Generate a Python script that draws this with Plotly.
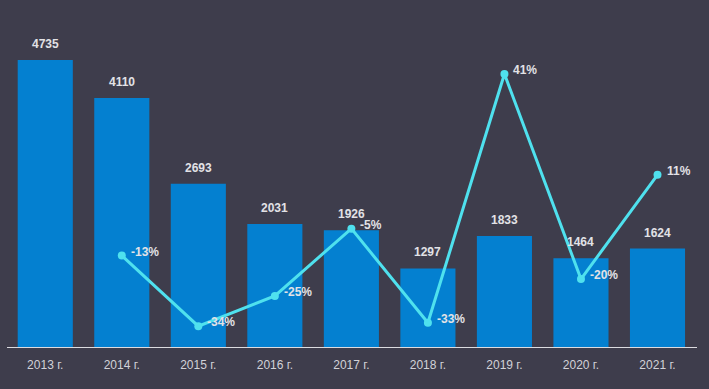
import plotly.graph_objects as go

years = ["2013 г.", "2014 г.", "2015 г.", "2016 г.", "2017 г.", "2018 г.", "2019 г.", "2020 г.", "2021 г."]
values = [4735, 4110, 2693, 2031, 1926, 1297, 1833, 1464, 1624]
change_years = years[1:]
changes = [-13, -34, -25, -5, -33, 41, -20, 11]

BG = "#3e3d4c"
BAR = "#0480d0"
LINE = "#4fe1ee"
TXT = "#e2e2e6"
FONT = "Liberation Sans, Arial, sans-serif"

fig = go.Figure()
fig.add_trace(go.Bar(x=years, y=values, marker=dict(color=BAR, line=dict(width=0)), width=0.72,
                     hoverinfo="skip"))
fig.add_trace(go.Scatter(x=change_years, y=changes, yaxis="y2", mode="lines+markers",
                         line=dict(color=LINE, width=3), marker=dict(color=LINE, size=8),
                         hoverinfo="skip"))

ann = []
for x, v in zip(years, values):
    ann.append(dict(x=x, y=v, xref="x", yref="y", text=f"<b>{v}</b>", showarrow=False,
                    yanchor="bottom", yshift=7, font=dict(family=FONT, size=12, color=TXT)))
for x, c in zip(change_years, changes):
    ann.append(dict(x=x, y=c, xref="x", yref="y2", text=f"<b>{c}%</b>", showarrow=False,
                    xanchor="left", xshift=7, yshift=4, font=dict(family=FONT, size=12, color=TXT)))

fig.update_layout(
    width=709, height=389,
    paper_bgcolor=BG, plot_bgcolor=BG,
    margin=dict(l=7, r=12, t=0, b=42),
    showlegend=False,
    bargap=0.28,
    annotations=ann,
    xaxis=dict(showgrid=False, showline=True, linecolor="#dcdce0", linewidth=1,
               ticks="", ticklabelstandoff=7,
               tickfont=dict(family=FONT, size=12, color="#d2d2d8"), fixedrange=True),
    yaxis=dict(range=[0, 5726], visible=False, showgrid=False, zeroline=False),
    yaxis2=dict(range=[-40.2, 63.0], overlaying="y", visible=False, showgrid=False, zeroline=False),
)

fig.write_html("out.html", config={"displayModeBar": False},
               post_script="document.body.style.margin='0';document.body.style.background='#3e3d4c';")
